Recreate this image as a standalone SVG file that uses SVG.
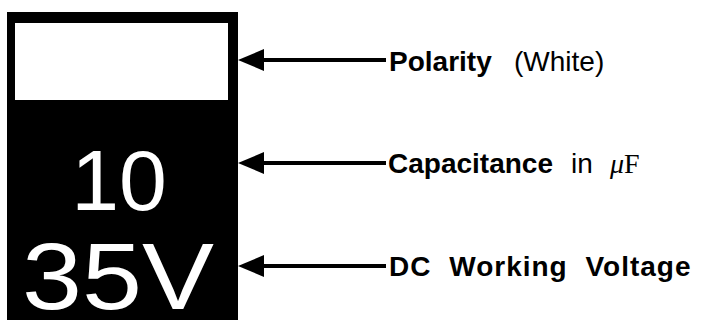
<svg xmlns="http://www.w3.org/2000/svg" width="705" height="329" viewBox="0 0 705 329">
<defs>
<style>
.lbl{font-family:"Liberation Sans",Arial,sans-serif;font-size:28px;fill:#000}
.b{font-weight:bold}
.ser{font-family:"Liberation Serif","Times New Roman",serif}
.dig{font-family:"Liberation Sans",Arial,sans-serif;fill:#fff}
.conn{stroke:#000;stroke-width:4;fill:none}
</style>
</defs>
<rect width="705" height="329" fill="#fff"/>
<g id="capacitor">
<rect x="7" y="12" width="231" height="308" fill="#000"/>
<rect x="15" y="23" width="213" height="77" fill="#fff"/>
<text class="dig" x="119" y="210" font-size="86" text-anchor="middle">10</text>
<text class="dig" x="118" y="309" font-size="95" text-anchor="middle" textLength="192" lengthAdjust="spacingAndGlyphs">35V</text>
</g>
<g id="connectors">
<line class="conn" x1="262" y1="60" x2="386" y2="60"/>
<polygon points="238,60 264,49 264,71" fill="#000"/>
<line class="conn" x1="262" y1="163" x2="386" y2="163"/>
<polygon points="238,163 264,152 264,174" fill="#000"/>
<line class="conn" x1="262" y1="266" x2="386" y2="266"/>
<polygon points="238,266 264,255 264,277" fill="#000"/>
</g>
<g id="label-polarity">
<text class="lbl" y="71"><tspan class="b" x="389">Polarity</tspan><tspan x="514">(White)</tspan></text>
</g>
<g id="label-capacitance">
<text class="lbl" y="173"><tspan class="b" x="388">Capacitance</tspan><tspan x="571">in</tspan><tspan class="ser" x="610" font-style="italic">μ</tspan><tspan class="ser">F</tspan></text>
</g>
<g id="label-voltage">
<text class="lbl b" x="389" y="276" letter-spacing="1" word-spacing="9">DC Working Voltage</text>
</g>
</svg>
